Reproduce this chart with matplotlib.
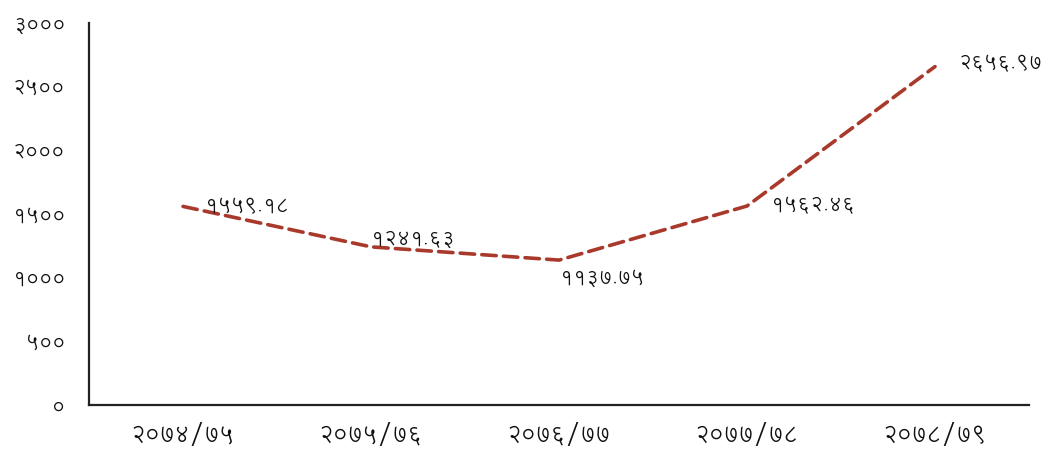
import matplotlib
matplotlib.use('Agg')
import matplotlib.pyplot as plt

plt.rcParams['font.family'] = ['Lohit Devanagari', 'DejaVu Sans']

# data (fiscal years in Nepali digits)
years = ['२०७४/७५', '२०७५/७६', '२०७६/७७', '२०७७/७८', '२०७८/७९']
values = [1559.18, 1241.63, 1137.75, 1562.46, 2656.97]
value_labels = ['१५५९.१८', '१२४१.६३', '११३७.७५', '१५६२.४६', '२६५६.९७']
yticks = [0, 500, 1000, 1500, 2000, 2500, 3000]
ytick_labels = ['०', '५००', '१०००', '१५००', '२०००', '२५००', '३०००']

# label placement (pixel offsets, alignment)
label_pos = [((22, 0), 'left', 'center'),
             ((0, 8), 'left', 'center'),
             ((1, -9), 'left', 'top'),
             ((24, 0), 'left', 'center'),
             ((24, 3), 'left', 'center')]

fig = plt.figure(figsize=(10.45, 4.49), dpi=100)
ax = fig.add_axes([0.0852, 0.098, 0.8995, 0.851])

x = list(range(len(years)))
ax.plot(x, values, color='#a8392b', linewidth=2.6, linestyle=(0, (4, 2)),
        dash_capstyle='round')

for xi, v, lab, (off, ha, va) in zip(x, values, value_labels, label_pos):
    ax.annotate(lab, (xi, v), xytext=off, textcoords='offset pixels',
                ha=ha, va=va, fontsize=14.5, color='#111111')

ax.set_xlim(-0.5, len(years) - 0.5)
ax.set_ylim(0, 3000)
ax.set_xticks(x)
ax.set_xticklabels(years)
ax.set_yticks(yticks)
ax.set_yticklabels(ytick_labels)
ax.tick_params(axis='both', length=0, colors='#111111')
ax.tick_params(axis='y', pad=17, labelsize=14.5)
ax.tick_params(axis='x', pad=13, labelsize=16.5)

for s in ['top', 'right']:
    ax.spines[s].set_visible(False)
for s in ['left', 'bottom']:
    ax.spines[s].set_linewidth(1.6)
    ax.spines[s].set_color('#222222')

fig.savefig('out.png', dpi=100)
